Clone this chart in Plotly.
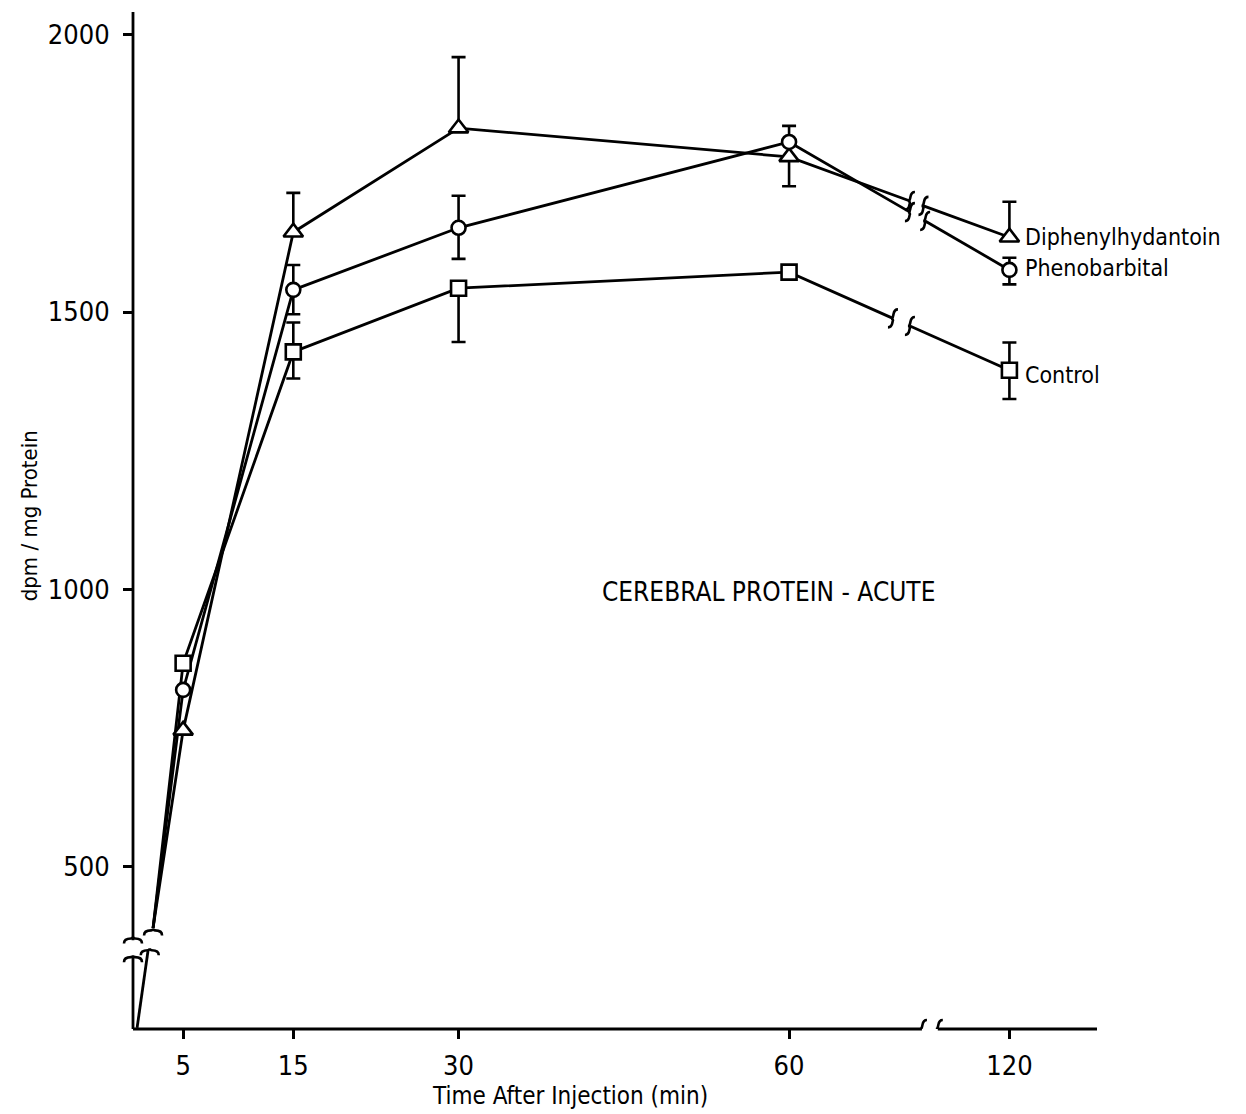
import plotly.graph_objects as go

# ---------------- data ----------------
times = [5, 15, 30, 60, 120]
tick_labels = ["5", "15", "30", "60", "120"]
y_ticks = [500, 1000, 1500, 2000]

series_names = ["Diphenylhydantoin", "Phenobarbital", "Control"]
dph_values = [745, 1644, 1832, 1780, 1635]
dph_err_plus = [0, 71, 128, 0, 64]
dph_err_minus = [0, 0, 0, 53, 0]

phb_values = [818, 1540, 1652, 1807, 1576]
phb_err_plus = [0, 45, 58, 29, 22]
phb_err_minus = [0, 44, 56, 0, 26]

ctl_values = [866, 1428, 1543, 1572, 1395]
ctl_err_plus = [0, 53, 0, 10, 50]
ctl_err_minus = [0, 48, 97, 10, 52]

# lines rising from the origin below the broken y-axis
origin_stub_t = [0.82, 1.82]
origin_stub_v = [208, 348]
bundle_start_t = 2.27
bundle_start_v = 388

# ---------------- broken x scale ----------------
BREAK_T = 60
PLOT_120_AT = 80.0


def xmap(t):
    return t if t <= BREAK_T else PLOT_120_AT


X_RANGE = [0.45, 87.95]
Y_RANGE = [206, 2041.5]
X_AXIS_GAP = [72.06, 73.5]
Y_AXIS_GAP = [335.7, 366.4]

FONT = "DejaVu Sans Condensed, DejaVu Sans, sans-serif"
LW = 2.8

symbols = ["triangle-up", "circle", "square"]
msizes = [17, 14, 15]
values = [dph_values, phb_values, ctl_values]
eplus = [dph_err_plus, phb_err_plus, ctl_err_plus]
eminus = [dph_err_minus, phb_err_minus, ctl_err_minus]
line_gaps = [(70.97, 72.2), (70.97, 72.35), (69.43, 70.97)]
label_dy = [0, 2, -5]

fig = go.Figure()
shapes = []

VBREAK = "M 5 9 C 0 9 1 4 0 2 C 0 1 -1 0 -2 0 C -1 0 0 -1 0 -2 C -1 -4 0 -9 -5 -9"
HBREAK = "M -9 -5 C -9 0 -4 0 -2 0 C -1 0 0 1 0 2 C 0 1 1 0 2 0 C 4 0 9 0 9 -5"


def brk(xa, ya, path, xref="x", yref="y"):
    shapes.append(dict(type="path", xref=xref, yref=yref, xsizemode="pixel",
                       ysizemode="pixel", xanchor=xa, yanchor=ya, path=path,
                       line=dict(color="black", width=2.6), layer="above"))


# origin stub
fig.add_trace(go.Scatter(x=origin_stub_t, y=origin_stub_v, mode="lines",
                         line=dict(color="black", width=LW), showlegend=False,
                         hoverinfo="skip"))
brk(origin_stub_t[1] + 0.15, origin_stub_v[1], HBREAK)
brk(bundle_start_t, bundle_start_v - 4, HBREAK)

for i, name in enumerate(series_names):
    v = values[i]
    xs = [xmap(t) for t in times]
    g0, g1 = line_gaps[i]
    x60, x120 = xs[3], xs[4]
    y60, y120 = v[3], v[4]
    yg0 = y60 + (g0 - x60) / (x120 - x60) * (y120 - y60)
    yg1 = y60 + (g1 - x60) / (x120 - x60) * (y120 - y60)
    lx = [bundle_start_t] + xs[:4] + [g0, None, g1, x120]
    ly = [bundle_start_v] + v[:4] + [yg0, None, yg1, y120]
    fig.add_trace(go.Scatter(x=lx, y=ly, mode="lines",
                             line=dict(color="black", width=LW),
                             showlegend=False, hoverinfo="skip",
                             connectgaps=False))
    brk(g0, yg0, VBREAK)
    brk(g1, yg1, VBREAK)

for i, name in enumerate(series_names):
    xs = [xmap(t) for t in times]
    fig.add_trace(go.Scatter(
        x=xs, y=values[i], mode="markers", name=name, showlegend=False,
        marker=dict(symbol=symbols[i], size=msizes[i], color="white",
                    line=dict(color="black", width=2.6)),
        error_y=dict(type="data", symmetric=False, array=eplus[i],
                     arrayminus=eminus[i], color="black", thickness=2.6,
                     width=7)))

annotations = []
for i, name in enumerate(series_names):
    annotations.append(dict(x=xmap(times[-1]), y=values[i][-1], xref="x", yref="y",
                            text=name, showarrow=False, xanchor="left",
                            yanchor="middle", xshift=14, yshift=label_dy[i],
                            font=dict(family=FONT, size=23, color="black")))

annotations.append(dict(x=58.1, y=995, xref="x", yref="y",
                        text="CEREBRAL PROTEIN - ACUTE", showarrow=False,
                        font=dict(family=FONT, size=26, color="black")))
annotations.append(dict(x=(570 - 133) / 964, y=-0.066, xref="paper", yref="paper",
                        text="Time After Injection (min)", showarrow=False,
                        yanchor="middle",
                        font=dict(family=FONT, size=24, color="black")))
annotations.append(dict(x=-0.107, y=0.505, xref="paper", yref="paper",
                        text="dpm / mg Protein", showarrow=False, textangle=-90,
                        xanchor="center", yanchor="middle",
                        font=dict(family=FONT, size=22, color="black")))

# axis lines (broken)
axis_line = dict(color="black", width=2.8)
shapes += [
    dict(type="line", xref="x", yref="paper", x0=X_RANGE[0] - 0.3, x1=X_AXIS_GAP[0],
         y0=0, y1=0, line=axis_line, layer="above"),
    dict(type="line", xref="x", yref="paper", x0=X_AXIS_GAP[1], x1=X_RANGE[1],
         y0=0, y1=0, line=axis_line, layer="above"),
    dict(type="line", xref="paper", yref="y", x0=0, x1=0, y0=Y_RANGE[0],
         y1=Y_AXIS_GAP[0], line=axis_line, layer="above"),
    dict(type="line", xref="paper", yref="y", x0=0, x1=0, y0=Y_AXIS_GAP[1],
         y1=Y_RANGE[1], line=axis_line, layer="above"),
]
brk(X_AXIS_GAP[0], Y_RANGE[0], VBREAK, xref="x", yref="y")
brk(X_AXIS_GAP[1], Y_RANGE[0], VBREAK, xref="x", yref="y")
brk(0, Y_AXIS_GAP[0], HBREAK, xref="paper", yref="y")
brk(0, Y_AXIS_GAP[1] + 3, HBREAK, xref="paper", yref="y")

fig.update_layout(
    width=1246, height=1114,
    margin=dict(l=133, r=149, t=12, b=85),
    paper_bgcolor="white", plot_bgcolor="white",
    shapes=shapes, annotations=annotations,
    xaxis=dict(range=X_RANGE, showgrid=False, zeroline=False, showline=False,
               tickmode="array", tickvals=[xmap(t) for t in times],
               ticktext=tick_labels, ticks="outside", ticklen=9, tickwidth=2.6,
               tickcolor="black", ticklabelstandoff=4,
               tickfont=dict(family=FONT, size=27, color="black")),
    yaxis=dict(range=Y_RANGE, showgrid=False, zeroline=False, showline=False,
               tickmode="array", tickvals=y_ticks,
               ticktext=[str(v) for v in y_ticks], ticks="outside", ticklen=9,
               tickwidth=2.6, tickcolor="black", ticklabelstandoff=8,
               tickfont=dict(family=FONT, size=27, color="black")),
)

fig.write_html("out.html")
